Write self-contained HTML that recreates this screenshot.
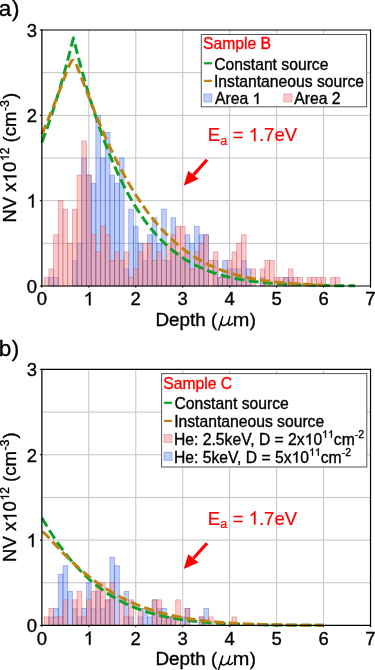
<!DOCTYPE html><html><head><meta charset="utf-8"><style>html,body{margin:0;padding:0;background:#fff;width:375px;height:670px;overflow:hidden}svg{display:block;font-family:"Liberation Sans",sans-serif;will-change:transform}</style></head><body><svg width="375" height="670" viewBox="0 0 375 670"><rect width="375" height="670" fill="#fff"></rect><g stroke="#c4c4c4" stroke-width="1"><line x1="88.82" y1="30.0" x2="88.82" y2="286.0"></line><line x1="135.77" y1="30.0" x2="135.77" y2="286.0"></line><line x1="182.72" y1="30.0" x2="182.72" y2="286.0"></line><line x1="229.67" y1="30.0" x2="229.67" y2="286.0"></line><line x1="276.62" y1="30.0" x2="276.62" y2="286.0"></line><line x1="323.57" y1="30.0" x2="323.57" y2="286.0"></line><line x1="41.87" y1="243.33" x2="370.52" y2="243.33"></line><line x1="41.87" y1="200.67" x2="370.52" y2="200.67"></line><line x1="41.87" y1="158.00" x2="370.52" y2="158.00"></line><line x1="41.87" y1="115.33" x2="370.52" y2="115.33"></line><line x1="41.87" y1="72.67" x2="370.52" y2="72.67"></line></g><g fill="rgba(38,98,238,0.3)" stroke="rgba(40,60,220,0.4)" stroke-width="0.8"><rect x="48.91" y="277.47" width="4.70" height="8.53"></rect><rect x="53.61" y="277.47" width="4.70" height="8.53"></rect><rect x="72.39" y="260.40" width="4.70" height="25.60"></rect><rect x="77.08" y="243.33" width="4.70" height="42.67"></rect><rect x="81.78" y="158.00" width="4.70" height="128.00"></rect><rect x="86.47" y="175.07" width="4.70" height="110.93"></rect><rect x="91.17" y="183.60" width="4.70" height="102.40"></rect><rect x="95.86" y="115.33" width="4.70" height="170.67"></rect><rect x="100.56" y="158.00" width="4.70" height="128.00"></rect><rect x="105.25" y="132.40" width="4.70" height="153.60"></rect><rect x="109.95" y="175.07" width="4.70" height="110.93"></rect><rect x="114.64" y="183.60" width="4.70" height="102.40"></rect><rect x="119.34" y="158.00" width="4.70" height="128.00"></rect><rect x="124.03" y="268.93" width="4.70" height="17.07"></rect><rect x="128.73" y="209.20" width="4.70" height="76.80"></rect><rect x="133.42" y="226.27" width="4.70" height="59.73"></rect><rect x="138.12" y="243.33" width="4.70" height="42.67"></rect><rect x="142.81" y="260.40" width="4.70" height="25.60"></rect><rect x="147.51" y="234.80" width="4.70" height="51.20"></rect><rect x="152.20" y="217.73" width="4.70" height="68.27"></rect><rect x="156.90" y="243.33" width="4.70" height="42.67"></rect><rect x="161.59" y="209.20" width="4.70" height="76.80"></rect><rect x="166.29" y="260.40" width="4.70" height="25.60"></rect><rect x="170.98" y="217.73" width="4.70" height="68.27"></rect><rect x="175.68" y="251.87" width="4.70" height="34.13"></rect><rect x="180.37" y="260.40" width="4.70" height="25.60"></rect><rect x="185.07" y="234.80" width="4.70" height="51.20"></rect><rect x="189.76" y="243.33" width="4.70" height="42.67"></rect><rect x="194.46" y="226.27" width="4.70" height="59.73"></rect><rect x="199.15" y="234.80" width="4.70" height="51.20"></rect><rect x="203.85" y="234.80" width="4.70" height="51.20"></rect><rect x="213.24" y="260.40" width="4.70" height="25.60"></rect><rect x="217.93" y="277.47" width="4.70" height="8.53"></rect><rect x="222.63" y="260.40" width="4.70" height="25.60"></rect><rect x="227.32" y="268.93" width="4.70" height="17.07"></rect><rect x="232.02" y="268.93" width="4.70" height="17.07"></rect><rect x="236.71" y="268.93" width="4.70" height="17.07"></rect><rect x="241.41" y="260.40" width="4.70" height="25.60"></rect><rect x="246.10" y="268.93" width="4.70" height="17.07"></rect><rect x="260.19" y="277.47" width="4.70" height="8.53"></rect><rect x="283.66" y="277.47" width="4.70" height="8.53"></rect><rect x="288.36" y="277.47" width="4.70" height="8.53"></rect></g><g fill="rgba(255,140,140,0.49)" stroke="rgba(150,30,45,0.33)" stroke-width="0.8"><rect x="44.22" y="277.47" width="4.70" height="8.53"></rect><rect x="48.91" y="268.93" width="4.70" height="17.07"></rect><rect x="53.61" y="234.80" width="4.70" height="51.20"></rect><rect x="58.30" y="200.67" width="4.70" height="85.33"></rect><rect x="63.00" y="209.20" width="4.70" height="76.80"></rect><rect x="67.69" y="243.33" width="4.70" height="42.67"></rect><rect x="72.39" y="209.20" width="4.70" height="76.80"></rect><rect x="77.08" y="175.07" width="4.70" height="110.93"></rect><rect x="81.78" y="140.93" width="4.70" height="145.07"></rect><rect x="86.47" y="175.07" width="4.70" height="110.93"></rect><rect x="91.17" y="234.80" width="4.70" height="51.20"></rect><rect x="95.86" y="251.87" width="4.70" height="34.13"></rect><rect x="100.56" y="226.27" width="4.70" height="59.73"></rect><rect x="105.25" y="234.80" width="4.70" height="51.20"></rect><rect x="109.95" y="260.40" width="4.70" height="25.60"></rect><rect x="114.64" y="251.87" width="4.70" height="34.13"></rect><rect x="119.34" y="260.40" width="4.70" height="25.60"></rect><rect x="124.03" y="251.87" width="4.70" height="34.13"></rect><rect x="128.73" y="277.47" width="4.70" height="8.53"></rect><rect x="133.42" y="268.93" width="4.70" height="17.07"></rect><rect x="138.12" y="251.87" width="4.70" height="34.13"></rect><rect x="142.81" y="243.33" width="4.70" height="42.67"></rect><rect x="147.51" y="243.33" width="4.70" height="42.67"></rect><rect x="152.20" y="260.40" width="4.70" height="25.60"></rect><rect x="156.90" y="251.87" width="4.70" height="34.13"></rect><rect x="161.59" y="260.40" width="4.70" height="25.60"></rect><rect x="166.29" y="243.33" width="4.70" height="42.67"></rect><rect x="170.98" y="234.80" width="4.70" height="51.20"></rect><rect x="175.68" y="226.27" width="4.70" height="59.73"></rect><rect x="180.37" y="226.27" width="4.70" height="59.73"></rect><rect x="185.07" y="251.87" width="4.70" height="34.13"></rect><rect x="189.76" y="268.93" width="4.70" height="17.07"></rect><rect x="194.46" y="251.87" width="4.70" height="34.13"></rect><rect x="199.15" y="243.33" width="4.70" height="42.67"></rect><rect x="203.85" y="234.80" width="4.70" height="51.20"></rect><rect x="208.54" y="260.40" width="4.70" height="25.60"></rect><rect x="213.24" y="251.87" width="4.70" height="34.13"></rect><rect x="217.93" y="277.47" width="4.70" height="8.53"></rect><rect x="222.63" y="277.47" width="4.70" height="8.53"></rect><rect x="227.32" y="260.40" width="4.70" height="25.60"></rect><rect x="232.02" y="251.87" width="4.70" height="34.13"></rect><rect x="236.71" y="243.33" width="4.70" height="42.67"></rect><rect x="241.41" y="234.80" width="4.70" height="51.20"></rect><rect x="246.10" y="277.47" width="4.70" height="8.53"></rect><rect x="250.80" y="268.93" width="4.70" height="17.07"></rect><rect x="260.19" y="268.93" width="4.70" height="17.07"></rect><rect x="264.88" y="260.40" width="4.70" height="25.60"></rect><rect x="269.58" y="260.40" width="4.70" height="25.60"></rect><rect x="274.27" y="277.47" width="4.70" height="8.53"></rect><rect x="278.97" y="277.47" width="4.70" height="8.53"></rect><rect x="283.66" y="277.47" width="4.70" height="8.53"></rect><rect x="288.36" y="268.93" width="4.70" height="17.07"></rect><rect x="293.05" y="277.47" width="4.70" height="8.53"></rect><rect x="297.75" y="277.47" width="4.70" height="8.53"></rect><rect x="307.14" y="277.47" width="4.70" height="8.53"></rect><rect x="311.83" y="277.47" width="4.70" height="8.53"></rect><rect x="316.53" y="277.47" width="4.70" height="8.53"></rect><rect x="321.22" y="277.47" width="4.70" height="8.53"></rect><rect x="330.61" y="277.47" width="4.70" height="8.53"></rect><rect x="335.31" y="277.47" width="4.70" height="8.53"></rect></g><path d="M41.87,142.37 L42.39,140.99 L42.92,139.59 L43.44,138.18 L43.96,136.77 L44.48,135.34 L45.01,133.90 L45.53,132.44 L46.05,130.98 L46.58,129.51 L47.10,128.02 L47.62,126.53 L48.14,125.02 L48.67,123.50 L49.19,121.97 L49.71,120.43 L50.23,118.88 L50.76,117.32 L51.28,115.74 L51.80,114.15 L52.33,112.55 L52.85,110.94 L53.37,109.32 L53.89,107.68 L54.42,106.04 L54.94,104.38 L55.46,102.71 L55.99,101.02 L56.51,99.33 L57.03,97.62 L57.55,95.90 L58.08,94.17 L58.60,92.42 L59.12,90.67 L59.65,88.90 L60.17,87.12 L60.69,85.32 L61.21,83.52 L61.74,81.70 L62.26,79.86 L62.78,78.02 L63.30,76.16 L63.83,74.29 L64.35,72.41 L64.87,70.51 L65.40,68.60 L65.92,66.68 L66.44,64.75 L66.96,62.80 L67.49,60.84 L68.01,58.86 L68.53,56.88 L69.06,54.88 L69.58,52.86 L70.10,50.84 L70.62,48.80 L71.15,46.75 L71.67,44.69 L72.19,42.62 L72.72,40.57 L73.24,38.73 L73.38,38.54 L73.76,39.51 L74.28,41.52 L74.81,43.58 L75.33,45.65 L75.85,47.70 L76.37,49.75 L76.90,51.78 L77.42,53.80 L77.94,55.80 L78.47,57.80 L78.99,59.78 L79.51,61.75 L80.03,63.70 L80.56,65.65 L81.08,67.57 L81.60,69.49 L82.13,71.39 L82.65,73.28 L83.17,75.16 L83.69,77.02 L84.22,78.88 L84.74,80.72 L85.26,82.54 L85.79,84.35 L86.31,86.16 L86.83,87.94 L87.35,89.72 L87.88,91.48 L88.40,93.23 L88.92,94.97 L89.44,96.70 L89.97,98.41 L90.49,100.11 L91.01,101.80 L91.54,103.48 L92.06,105.15 L92.58,106.80 L93.10,108.44 L93.63,110.07 L94.15,111.69 L94.67,113.29 L95.20,114.89 L95.72,116.47 L96.24,118.04 L96.76,119.60 L97.29,121.15 L97.81,122.68 L98.33,124.21 L98.86,125.72 L99.38,127.22 L99.90,128.71 L100.42,130.19 L100.95,131.66 L101.47,133.12 L101.99,134.56 L102.51,136.00 L103.04,137.42 L103.56,138.84 L104.08,140.24 L104.61,141.63 L105.13,143.01 L105.65,144.38 L106.17,145.74 L106.70,147.09 L107.22,148.43 L107.74,149.76 L108.27,151.07 L108.79,152.38 L109.31,153.68 L109.83,154.96 L110.36,156.24 L110.88,157.50 L111.40,158.76 L111.93,160.01 L112.45,161.24 L112.97,162.47 L113.49,163.68 L114.02,164.89 L114.54,166.09 L115.06,167.27 L115.58,168.45 L116.11,169.62 L116.63,170.78 L117.15,171.92 L117.68,173.06 L118.20,174.19 L118.72,175.31 L119.24,176.42 L119.77,177.53 L120.29,178.62 L120.81,179.70 L121.34,180.78 L121.86,181.84 L122.38,182.90 L122.90,183.94 L123.43,184.98 L123.95,186.01 L124.47,187.03 L125.00,188.05 L125.52,189.05 L126.04,190.05 L126.56,191.03 L127.09,192.01 L127.61,192.98 L128.13,193.94 L128.65,194.89 L129.18,195.84 L129.70,196.78 L130.22,197.70 L130.75,198.62 L131.27,199.54 L131.79,200.44 L132.31,201.34 L132.84,202.23 L133.36,203.11 L133.88,203.98 L134.41,204.84 L134.93,205.70 L135.45,206.55 L135.97,207.39 L136.50,208.23 L137.02,209.05 L137.54,209.87 L138.06,210.68 L138.59,211.49 L139.11,212.29 L139.63,213.08 L140.16,213.86 L140.68,214.64 L141.20,215.40 L141.72,216.17 L142.25,216.92 L142.77,217.67 L143.29,218.41 L143.82,219.14 L144.34,219.87 L144.86,220.59 L145.38,221.31 L145.91,222.01 L146.43,222.71 L146.95,223.41 L147.48,224.09 L148.00,224.78 L148.52,225.45 L149.04,226.12 L149.57,226.78 L150.09,227.44 L150.61,228.09 L151.13,228.73 L151.66,229.37 L152.18,230.00 L152.70,230.62 L153.23,231.24 L153.75,231.85 L154.27,232.46 L154.79,233.06 L155.32,233.66 L155.84,234.25 L156.36,234.83 L156.89,235.41 L157.41,235.98 L157.93,236.55 L158.45,237.11 L158.98,237.66 L159.50,238.21 L160.02,238.76 L160.55,239.30 L161.07,239.83 L161.59,240.36 L162.11,240.89 L162.64,241.40 L163.16,241.92 L163.68,242.43 L164.20,242.93 L164.73,243.43 L165.25,243.92 L165.77,244.41 L166.30,244.89 L166.82,245.37 L167.34,245.84 L167.86,246.31 L168.39,246.77 L168.91,247.23 L169.43,247.69 L169.96,248.14 L170.48,248.58 L171.00,249.02 L171.52,249.46 L172.05,249.89 L172.57,250.32 L173.09,250.74 L173.62,251.16 L174.14,251.57 L174.66,251.98 L175.18,252.39 L175.71,252.79 L176.23,253.18 L176.75,253.58 L177.27,253.96 L177.80,254.35 L178.32,254.73 L178.84,255.11 L179.37,255.48 L179.89,255.85 L180.41,256.21 L180.93,256.57 L181.46,256.93 L181.98,257.28 L182.50,257.63 L183.03,257.97 L183.55,258.32 L184.07,258.65 L184.59,258.99 L185.12,259.32 L185.64,259.65 L186.16,259.97 L186.69,260.29 L187.21,260.61 L187.73,260.92 L188.25,261.23 L188.78,261.54 L189.30,261.84 L189.82,262.14 L190.34,262.43 L190.87,262.73 L191.39,263.02 L191.91,263.30 L192.44,263.59 L192.96,263.87 L193.48,264.14 L194.00,264.42 L194.53,264.69 L195.05,264.96 L195.57,265.22 L196.10,265.49 L196.62,265.74 L197.14,266.00 L197.66,266.25 L198.19,266.50 L198.71,266.75 L199.23,267.00 L199.76,267.24 L200.28,267.48 L200.80,267.71 L201.32,267.95 L201.85,268.18 L202.37,268.41 L202.89,268.63 L203.41,268.86 L203.94,269.08 L204.46,269.30 L204.98,269.51 L205.51,269.72 L206.03,269.93 L206.55,270.14 L207.07,270.35 L207.60,270.55 L208.12,270.75 L208.64,270.95 L209.17,271.15 L209.69,271.34 L210.21,271.53 L210.73,271.72 L211.26,271.91 L211.78,272.10 L212.30,272.28 L212.83,272.46 L213.35,272.64 L213.87,272.81 L214.39,272.99 L214.92,273.16 L215.44,273.33 L215.96,273.50 L216.48,273.67 L217.01,273.83 L217.53,273.99 L218.05,274.15 L218.58,274.31 L219.10,274.47 L219.62,274.62 L220.14,274.77 L220.67,274.92 L221.19,275.07 L221.71,275.22 L222.24,275.37 L222.76,275.51 L223.28,275.65 L223.80,275.79 L224.33,275.93 L224.85,276.07 L225.37,276.20 L225.90,276.33 L226.42,276.47 L226.94,276.60 L227.46,276.72 L227.99,276.85 L228.51,276.98 L229.03,277.10 L229.55,277.22 L230.08,277.34 L230.60,277.46 L231.12,277.58 L231.65,277.70 L232.17,277.81 L232.69,277.92 L233.21,278.04 L233.74,278.15 L234.26,278.26 L234.78,278.36 L235.31,278.47 L235.83,278.57 L236.35,278.68 L236.87,278.78 L237.40,278.88 L237.92,278.98 L238.44,279.08 L238.97,279.18 L239.49,279.27 L240.01,279.37 L240.53,279.46 L241.06,279.55 L241.58,279.64 L242.10,279.73 L242.62,279.82 L243.15,279.91 L243.67,280.00 L244.19,280.08 L244.72,280.17 L245.24,280.25 L245.76,280.33 L246.28,280.41 L246.81,280.49 L247.33,280.57 L247.85,280.65 L248.38,280.73 L248.90,280.80 L249.42,280.88 L249.94,280.95 L250.47,281.02 L250.99,281.10 L251.51,281.17 L252.04,281.24 L252.56,281.31 L253.08,281.37 L253.60,281.44 L254.13,281.51 L254.65,281.57 L255.17,281.64 L255.69,281.70 L256.22,281.76 L256.74,281.83 L257.26,281.89 L257.79,281.95 L258.31,282.01 L258.83,282.07 L259.35,282.12 L259.88,282.18 L260.40,282.24 L260.92,282.29 L261.45,282.35 L261.97,282.40 L262.49,282.45 L263.01,282.51 L263.54,282.56 L264.06,282.61 L264.58,282.66 L265.11,282.71 L265.63,282.76 L266.15,282.81 L266.67,282.86 L267.20,282.90 L267.72,282.95 L268.24,283.00 L268.76,283.04 L269.29,283.09 L269.81,283.13 L270.33,283.17 L270.86,283.22 L271.38,283.26 L271.90,283.30 L272.42,283.34 L272.95,283.38 L273.47,283.42 L273.99,283.46 L274.52,283.50 L275.04,283.54 L275.56,283.57 L276.08,283.61 L276.61,283.65 L277.13,283.68 L277.65,283.72 L278.18,283.75 L278.70,283.79 L279.22,283.82 L279.74,283.86 L280.27,283.89 L280.79,283.92 L281.31,283.95 L281.83,283.99 L282.36,284.02 L282.88,284.05 L283.40,284.08 L283.93,284.11 L284.45,284.14 L284.97,284.17 L285.49,284.19 L286.02,284.22 L286.54,284.25 L287.06,284.28 L287.59,284.31 L288.11,284.33 L288.63,284.36 L289.15,284.38 L289.68,284.41 L290.20,284.43 L290.72,284.46 L291.25,284.48 L291.77,284.51 L292.29,284.53 L292.81,284.55 L293.34,284.58 L293.86,284.60 L294.38,284.62 L294.90,284.64 L295.43,284.67 L295.95,284.69 L296.47,284.71 L297.00,284.73 L297.52,284.75 L298.04,284.77 L298.56,284.79 L299.09,284.81 L299.61,284.83 L300.13,284.85 L300.66,284.86 L301.18,284.88 L301.70,284.90 L302.22,284.92 L302.75,284.94 L303.27,284.95 L303.79,284.97 L304.32,284.99 L304.84,285.00 L305.36,285.02 L305.88,285.04 L306.41,285.05 L306.93,285.07 L307.45,285.08 L307.97,285.10 L308.50,285.11 L309.02,285.13 L309.54,285.14 L310.07,285.15 L310.59,285.17 L311.11,285.18 L311.63,285.20 L312.16,285.21 L312.68,285.22 L313.20,285.23 L313.73,285.25 L314.25,285.26 L314.77,285.27 L315.29,285.28 L315.82,285.30 L316.34,285.31 L316.86,285.32 L317.38,285.33 L317.91,285.34 L318.43,285.35 L318.95,285.36 L319.48,285.37 L320.00,285.38 L320.52,285.40 L321.04,285.41 L321.57,285.42 L322.09,285.43 L322.61,285.43 L323.14,285.44 L323.66,285.45 L324.18,285.46 L324.70,285.47 L325.23,285.48 L325.75,285.49 L326.27,285.50 L326.80,285.51 L327.32,285.52 L327.84,285.52 L328.36,285.53 L328.89,285.54 L329.41,285.55 L329.93,285.56 L330.45,285.56 L330.98,285.57 L331.50,285.58 L332.02,285.58 L332.55,285.59 L333.07,285.60 L333.59,285.61 L334.11,285.61 L334.64,285.62 L335.16,285.63 L335.68,285.63 L336.21,285.64 L336.73,285.64 L337.25,285.65 L337.77,285.66 L338.30,285.66 L338.82,285.67 L339.34,285.67 L339.87,285.68 L340.39,285.69 L340.91,285.69 L341.43,285.70 L341.96,285.70 L342.48,285.71 L343.00,285.71 L343.52,285.72 L344.05,285.72 L344.57,285.73 L345.09,285.73 L345.62,285.74 L346.14,285.74 L346.66,285.75 L347.18,285.75 L347.71,285.75 L348.23,285.76 L348.75,285.76 L349.28,285.77 L349.80,285.77 L350.32,285.78 L350.84,285.78 L351.37,285.78 L351.89,285.79 L352.41,285.79 L352.94,285.80 L353.46,285.80 L353.98,285.80 L354.50,285.81 L355.03,285.81" fill="none" stroke="#0fa02c" stroke-width="3" stroke-dasharray="10 4.3"></path><path d="M41.87,134.08 L42.34,133.01 L42.81,131.93 L43.28,130.86 L43.75,129.77 L44.22,128.68 L44.69,127.59 L45.16,126.49 L45.63,125.38 L46.10,124.27 L46.57,123.16 L47.04,122.04 L47.51,120.92 L47.98,119.79 L48.45,118.66 L48.92,117.52 L49.39,116.38 L49.86,115.23 L50.34,114.08 L50.81,112.92 L51.28,111.76 L51.75,110.59 L52.22,109.42 L52.69,108.25 L53.16,107.07 L53.63,105.88 L54.10,104.69 L54.57,103.50 L55.04,102.30 L55.51,101.10 L55.98,99.90 L56.45,98.69 L56.92,97.48 L57.39,96.26 L57.86,95.04 L58.33,93.81 L58.80,92.59 L59.27,91.36 L59.74,90.12 L60.21,88.88 L60.68,87.64 L61.15,86.40 L61.62,85.16 L62.09,83.91 L62.56,82.67 L63.03,81.42 L63.50,80.17 L63.97,78.93 L64.44,77.68 L64.91,76.44 L65.38,75.20 L65.85,73.96 L66.32,72.74 L66.80,71.52 L67.27,70.31 L67.74,69.12 L68.21,67.95 L68.68,66.81 L69.15,65.70 L69.62,64.64 L70.09,63.64 L70.56,62.71 L71.03,61.88 L71.50,61.17 L71.97,60.63 L72.44,60.27 L72.91,60.13 L72.97,60.13 L73.38,60.21 L73.85,60.52 L74.32,61.02 L74.79,61.68 L75.26,62.48 L75.73,63.39 L76.20,64.37 L76.67,65.42 L77.14,66.52 L77.61,67.66 L78.08,68.82 L78.55,70.00 L79.02,71.21 L79.49,72.42 L79.96,73.64 L80.43,74.88 L80.90,76.12 L81.37,77.36 L81.84,78.60 L82.31,79.85 L82.78,81.10 L83.25,82.34 L83.73,83.59 L84.20,84.84 L84.67,86.08 L85.14,87.32 L85.61,88.56 L86.08,89.80 L86.55,91.04 L87.02,92.27 L87.49,93.50 L87.96,94.72 L88.43,95.94 L88.90,97.16 L89.37,98.37 L89.84,99.59 L90.31,100.79 L90.78,101.99 L91.25,103.19 L91.72,104.39 L92.19,105.58 L92.66,106.76 L93.13,107.94 L93.60,109.12 L94.07,110.29 L94.54,111.46 L95.01,112.62 L95.48,113.78 L95.95,114.93 L96.42,116.08 L96.89,117.22 L97.36,118.36 L97.83,119.50 L98.30,120.63 L98.77,121.75 L99.24,122.87 L99.71,123.99 L100.19,125.10 L100.66,126.20 L101.13,127.30 L101.60,128.40 L102.07,129.49 L102.54,130.57 L103.01,131.66 L103.48,132.73 L103.95,133.80 L104.42,134.87 L104.89,135.93 L105.36,136.99 L105.83,138.04 L106.30,139.08 L106.77,140.12 L107.24,141.16 L107.71,142.19 L108.18,143.22 L108.65,144.24 L109.12,145.26 L109.59,146.27 L110.06,147.27 L110.53,148.27 L111.00,149.27 L111.47,150.26 L111.94,151.25 L112.41,152.23 L112.88,153.21 L113.35,154.18 L113.82,155.15 L114.29,156.11 L114.76,157.06 L115.23,158.02 L115.70,158.96 L116.17,159.90 L116.65,160.84 L117.12,161.77 L117.59,162.70 L118.06,163.62 L118.53,164.54 L119.00,165.45 L119.47,166.36 L119.94,167.26 L120.41,168.16 L120.88,169.05 L121.35,169.94 L121.82,170.82 L122.29,171.70 L122.76,172.57 L123.23,173.44 L123.70,174.30 L124.17,175.16 L124.64,176.02 L125.11,176.87 L125.58,177.71 L126.05,178.55 L126.52,179.38 L126.99,180.21 L127.46,181.04 L127.93,181.86 L128.40,182.67 L128.87,183.49 L129.34,184.29 L129.81,185.09 L130.28,185.89 L130.75,186.68 L131.22,187.47 L131.69,188.25 L132.16,189.03 L132.63,189.80 L133.11,190.57 L133.58,191.34 L134.05,192.10 L134.52,192.85 L134.99,193.60 L135.46,194.35 L135.93,195.09 L136.40,195.83 L136.87,196.56 L137.34,197.29 L137.81,198.01 L138.28,198.73 L138.75,199.44 L139.22,200.15 L139.69,200.86 L140.16,201.56 L140.63,202.25 L141.10,202.95 L141.57,203.63 L142.04,204.32 L142.51,205.00 L142.98,205.67 L143.45,206.34 L143.92,207.01 L144.39,207.67 L144.86,208.32 L145.33,208.98 L145.80,209.63 L146.27,210.27 L146.74,210.91 L147.21,211.55 L147.68,212.18 L148.15,212.81 L148.62,213.43 L149.09,214.05 L149.56,214.66 L150.04,215.28 L150.51,215.88 L150.98,216.49 L151.45,217.08 L151.92,217.68 L152.39,218.27 L152.86,218.86 L153.33,219.44 L153.80,220.02 L154.27,220.59 L154.74,221.16 L155.21,221.73 L155.68,222.29 L156.15,222.85 L156.62,223.41 L157.09,223.96 L157.56,224.50 L158.03,225.05 L158.50,225.59 L158.97,226.12 L159.44,226.66 L159.91,227.18 L160.38,227.71 L160.85,228.23 L161.32,228.75 L161.79,229.26 L162.26,229.77 L162.73,230.27 L163.20,230.78 L163.67,231.28 L164.14,231.77 L164.61,232.26 L165.08,232.75 L165.55,233.23 L166.02,233.71 L166.50,234.19 L166.97,234.66 L167.44,235.13 L167.91,235.60 L168.38,236.06 L168.85,236.52 L169.32,236.98 L169.79,237.43 L170.26,237.88 L170.73,238.33 L171.20,238.77 L171.67,239.21 L172.14,239.64 L172.61,240.08 L173.08,240.51 L173.55,240.93 L174.02,241.35 L174.49,241.77 L174.96,242.19 L175.43,242.60 L175.90,243.01 L176.37,243.42 L176.84,243.82 L177.31,244.22 L177.78,244.62 L178.25,245.01 L178.72,245.40 L179.19,245.79 L179.66,246.18 L180.13,246.56 L180.60,246.94 L181.07,247.31 L181.54,247.69 L182.01,248.06 L182.48,248.42 L182.96,248.79 L183.43,249.15 L183.90,249.50 L184.37,249.86 L184.84,250.21 L185.31,250.56 L185.78,250.91 L186.25,251.25 L186.72,251.59 L187.19,251.93 L187.66,252.26 L188.13,252.60 L188.60,252.93 L189.07,253.25 L189.54,253.58 L190.01,253.90 L190.48,254.22 L190.95,254.53 L191.42,254.85 L191.89,255.16 L192.36,255.47 L192.83,255.77 L193.30,256.08 L193.77,256.38 L194.24,256.67 L194.71,256.97 L195.18,257.26 L195.65,257.55 L196.12,257.84 L196.59,258.13 L197.06,258.41 L197.53,258.69 L198.00,258.97 L198.47,259.24 L198.94,259.52 L199.42,259.79 L199.89,260.06 L200.36,260.32 L200.83,260.59 L201.30,260.85 L201.77,261.11 L202.24,261.37 L202.71,261.62 L203.18,261.87 L203.65,262.12 L204.12,262.37 L204.59,262.62 L205.06,262.86 L205.53,263.10 L206.00,263.34 L206.47,263.58 L206.94,263.81 L207.41,264.05 L207.88,264.28 L208.35,264.51 L208.82,264.73 L209.29,264.96 L209.76,265.18 L210.23,265.40 L210.70,265.62 L211.17,265.84 L211.64,266.05 L212.11,266.27 L212.58,266.48 L213.05,266.68 L213.52,266.89 L213.99,267.10 L214.46,267.30 L214.93,267.50 L215.40,267.70 L215.88,267.90 L216.35,268.09 L216.82,268.29 L217.29,268.48 L217.76,268.67 L218.23,268.86 L218.70,269.04 L219.17,269.23 L219.64,269.41 L220.11,269.59 L220.58,269.77 L221.05,269.95 L221.52,270.13 L221.99,270.30 L222.46,270.47 L222.93,270.65 L223.40,270.81 L223.87,270.98 L224.34,271.15 L224.81,271.31 L225.28,271.48 L225.75,271.64 L226.22,271.80 L226.69,271.96 L227.16,272.11 L227.63,272.27 L228.10,272.42 L228.57,272.58 L229.04,272.73 L229.51,272.88 L229.98,273.02 L230.45,273.17 L230.92,273.31 L231.39,273.46 L231.86,273.60 L232.33,273.74 L232.81,273.88 L233.28,274.02 L233.75,274.15 L234.22,274.29 L234.69,274.42 L235.16,274.56 L235.63,274.69 L236.10,274.82 L236.57,274.94 L237.04,275.07 L237.51,275.20 L237.98,275.32 L238.45,275.45 L238.92,275.57 L239.39,275.69 L239.86,275.81 L240.33,275.93 L240.80,276.04 L241.27,276.16 L241.74,276.27 L242.21,276.39 L242.68,276.50 L243.15,276.61 L243.62,276.72 L244.09,276.83 L244.56,276.94 L245.03,277.05 L245.50,277.15 L245.97,277.26 L246.44,277.36 L246.91,277.46 L247.38,277.56 L247.85,277.66 L248.32,277.76 L248.79,277.86 L249.27,277.96 L249.74,278.05 L250.21,278.15 L250.68,278.24 L251.15,278.33 L251.62,278.43 L252.09,278.52 L252.56,278.61 L253.03,278.70 L253.50,278.78 L253.97,278.87 L254.44,278.96 L254.91,279.04 L255.38,279.13 L255.85,279.21 L256.32,279.29 L256.79,279.37 L257.26,279.45 L257.73,279.53 L258.20,279.61 L258.67,279.69 L259.14,279.77 L259.61,279.85 L260.08,279.92 L260.55,280.00 L261.02,280.07 L261.49,280.14 L261.96,280.22 L262.43,280.29 L262.90,280.36 L263.37,280.43 L263.84,280.50 L264.31,280.56 L264.78,280.63 L265.25,280.70 L265.73,280.77 L266.20,280.83 L266.67,280.90 L267.14,280.96 L267.61,281.02 L268.08,281.08 L268.55,281.15 L269.02,281.21 L269.49,281.27 L269.96,281.33 L270.43,281.39 L270.90,281.44 L271.37,281.50 L271.84,281.56 L272.31,281.62 L272.78,281.67 L273.25,281.73 L273.72,281.78 L274.19,281.83 L274.66,281.89 L275.13,281.94 L275.60,281.99 L276.07,282.04 L276.54,282.09 L277.01,282.14 L277.48,282.19 L277.95,282.24 L278.42,282.29 L278.89,282.34 L279.36,282.39 L279.83,282.43 L280.30,282.48 L280.77,282.53 L281.24,282.57 L281.71,282.62 L282.19,282.66 L282.66,282.70 L283.13,282.75 L283.60,282.79 L284.07,282.83 L284.54,282.87 L285.01,282.91 L285.48,282.95 L285.95,282.99 L286.42,283.03 L286.89,283.07 L287.36,283.11 L287.83,283.15 L288.30,283.19 L288.77,283.22 L289.24,283.26 L289.71,283.30 L290.18,283.33 L290.65,283.37 L291.12,283.40 L291.59,283.44 L292.06,283.47 L292.53,283.51 L293.00,283.54 L293.47,283.57 L293.94,283.61 L294.41,283.64 L294.88,283.67 L295.35,283.70 L295.82,283.73 L296.29,283.76 L296.76,283.79 L297.23,283.82 L297.70,283.85 L298.17,283.88 L298.64,283.91 L299.12,283.94 L299.59,283.97 L300.06,283.99 L300.53,284.02 L301.00,284.05 L301.47,284.07 L301.94,284.10 L302.41,284.13 L302.88,284.15 L303.35,284.18 L303.82,284.20 L304.29,284.23 L304.76,284.25 L305.23,284.28 L305.70,284.30 L306.17,284.32 L306.64,284.35 L307.11,284.37 L307.58,284.39 L308.05,284.41 L308.52,284.44 L308.99,284.46 L309.46,284.48 L309.93,284.50 L310.40,284.52 L310.87,284.54 L311.34,284.56 L311.81,284.58 L312.28,284.60 L312.75,284.62 L313.22,284.64 L313.69,284.66 L314.16,284.68 L314.63,284.70 L315.10,284.72 L315.58,284.74 L316.05,284.75 L316.52,284.77 L316.99,284.79 L317.46,284.81 L317.93,284.82 L318.40,284.84 L318.87,284.86 L319.34,284.87 L319.81,284.89 L320.28,284.90 L320.75,284.92 L321.22,284.94 L321.69,284.95 L322.16,284.97 L322.63,284.98 L323.10,285.00 L323.57,285.01" fill="none" stroke="#bd8214" stroke-width="3" stroke-dasharray="10 4.3"></path><g stroke="#000" stroke-width="1.22" fill="none"><line x1="41.27" y1="30.00" x2="371.12" y2="30.00"></line><line x1="41.27" y1="286.00" x2="371.12" y2="286.00"></line><line x1="41.87" y1="29.40" x2="41.87" y2="286.60" stroke-width="1.25"></line><line x1="370.52" y1="29.40" x2="370.52" y2="287.50" stroke-width="1.2"></line><line x1="41.87" y1="286.0" x2="41.87" y2="287.60" stroke-width="1"></line><line x1="88.82" y1="286.0" x2="88.82" y2="287.60" stroke-width="1"></line><line x1="135.77" y1="286.0" x2="135.77" y2="287.60" stroke-width="1"></line><line x1="182.72" y1="286.0" x2="182.72" y2="287.60" stroke-width="1"></line><line x1="229.67" y1="286.0" x2="229.67" y2="287.60" stroke-width="1"></line><line x1="276.62" y1="286.0" x2="276.62" y2="287.60" stroke-width="1"></line><line x1="323.57" y1="286.0" x2="323.57" y2="287.60" stroke-width="1"></line><line x1="370.52" y1="286.0" x2="370.52" y2="287.60" stroke-width="1"></line><line x1="39.87" y1="286.00" x2="41.87" y2="286.00" stroke-width="1"></line><line x1="39.87" y1="200.67" x2="41.87" y2="200.67" stroke-width="1"></line><line x1="39.87" y1="115.33" x2="41.87" y2="115.33" stroke-width="1"></line><line x1="39.87" y1="30.00" x2="41.87" y2="30.00" stroke-width="1"></line></g><rect x="201.3" y="34.5" width="165.3" height="72.3" fill="#fff" stroke="#555" stroke-width="1"></rect><g font-family="Liberation Sans, sans-serif" font-size="15.7" stroke="#000" stroke-width="0.35"><text x="203.0" y="49.4" fill="#ff0000" stroke="#ff0000">Sample B</text><text x="214.2" y="70.2">Constant source</text><text x="214.0" y="87.2">Instantaneous source</text><text x="215.0" y="104.1">Area  </text><path d="M763,0 L583,0 L583,1147 Q518,1085 412.5,1023 Q307,961 223,930 L223,1104 Q374,1175 484.5,1273.5 Q595,1372 644,1466 L763,1466 Z" transform="translate(252.48,104.10) scale(0.007666,-0.007666)" fill="rgb(0, 0, 0)" stroke="rgb(0, 0, 0)" stroke-width="45.66"></path><text x="294.3" y="104.1">Area 2</text></g><line x1="204" y1="63.3" x2="212" y2="63.3" stroke="#0fa02c" stroke-width="2.2"></line><line x1="204" y1="80.9" x2="212" y2="80.9" stroke="#bd8214" stroke-width="2.2"></line><rect x="203.8" y="93.9" width="8" height="8" fill="rgba(38,98,238,0.3)" stroke="rgba(40,60,220,0.4)" stroke-width="0.8"></rect><rect x="283.8" y="93.9" width="8" height="8" fill="rgba(255,140,140,0.49)" stroke="rgba(150,30,45,0.33)" stroke-width="0.8"></rect><g font-family="Liberation Sans, sans-serif" fill="#ff0000"><text x="207.7" y="141.20" font-size="18.5" stroke="#ff0000" stroke-width="0.2">E<tspan font-size="12.5" dy="3.5" dx="0.2">a</tspan><tspan dy="-3.5" dx="0.4"> =  .7eV</tspan></text><path d="M763,0 L583,0 L583,1147 Q518,1085 412.5,1023 Q307,961 223,930 L223,1104 Q374,1175 484.5,1273.5 Q595,1372 644,1466 L763,1466 Z" transform="translate(248.68,141.20) scale(0.009033,-0.009033)" fill="rgb(255, 0, 0)" stroke="rgb(255, 0, 0)" stroke-width="22.14"></path><line x1="207" y1="159.80" x2="193.5" y2="174.90" stroke="#ff0000" stroke-width="3.2"></line><polygon points="183.7,185.70 188.3,170.80 198.5,179.00" fill="#ff0000"></polygon></g><g font-family="Liberation Sans, sans-serif" font-size="18.5" fill="#000" stroke="#000" stroke-width="0.35"><text x="41.87" y="305.20" text-anchor="middle">0</text><text x="88.82" y="305.20" text-anchor="middle"> </text><path d="M763,0 L583,0 L583,1147 Q518,1085 412.5,1023 Q307,961 223,930 L223,1104 Q374,1175 484.5,1273.5 Q595,1372 644,1466 L763,1466 Z" transform="translate(83.67,305.20) scale(0.009033,-0.009033)" fill="rgb(0, 0, 0)" stroke="rgb(0, 0, 0)" stroke-width="38.75"></path><text x="135.77" y="305.20" text-anchor="middle">2</text><text x="182.72" y="305.20" text-anchor="middle">3</text><text x="229.67" y="305.20" text-anchor="middle">4</text><text x="276.62" y="305.20" text-anchor="middle">5</text><text x="323.57" y="305.20" text-anchor="middle">6</text><text x="370.52" y="305.20" text-anchor="middle">7</text><text x="37.0" y="292.90" text-anchor="end">0</text><text x="37.0" y="207.57" text-anchor="end"> </text><path d="M763,0 L583,0 L583,1147 Q518,1085 412.5,1023 Q307,961 223,930 L223,1104 Q374,1175 484.5,1273.5 Q595,1372 644,1466 L763,1466 Z" transform="translate(26.70,207.57) scale(0.009033,-0.009033)" fill="rgb(0, 0, 0)" stroke="rgb(0, 0, 0)" stroke-width="38.75"></path><text x="37.0" y="122.23" text-anchor="end">2</text><text x="37.0" y="36.90" text-anchor="end">3</text></g><g font-family="Liberation Sans, sans-serif" font-size="18.5" stroke="#000" stroke-width="0.35"><text transform="translate(155.47,325.80) scale(1.017,1)">Depth</text><text x="210.90" y="325.80">(</text><path d="M218.4,330.60 L222.9,316.10 M221.5,321.60 Q220.5,325.90 223.9,325.50 Q227.3,325.10 229.2,320.40 M230.0,316.10 L228.4,323.00 Q227.9,325.50 230.3,325.10 Q231.8,324.70 232.9,322.90" fill="none" stroke="#000" stroke-width="1.45" stroke-linecap="butt"></path><text transform="translate(232.71,325.80) scale(1.077,1)">m</text><text x="249.80" y="325.80">)</text></g><text font-family="Liberation Sans, sans-serif" font-size="18.5" transform="translate(16.4,222.50) rotate(-90)" stroke="#000" stroke-width="0.35">NV x 0<tspan font-size="12" dy="-7.4" dx="0.8"> 2</tspan><tspan dy="7.4"> (cm</tspan><tspan font-size="12.5" dy="-7.4" dx="0.6">-3</tspan><tspan dy="7.4" dx="1.0">)</tspan></text><path d="M763,0 L583,0 L583,1147 Q518,1085 412.5,1023 Q307,961 223,930 L223,1104 Q374,1175 484.5,1273.5 Q595,1372 644,1466 L763,1466 Z" transform="translate(16.4,222.50) rotate(-90) translate(61.47,-7.40) scale(0.005859,-0.005859)" fill="rgb(0, 0, 0)" stroke="rgb(0, 0, 0)" stroke-width="59.73"></path><path d="M763,0 L583,0 L583,1147 Q518,1085 412.5,1023 Q307,961 223,930 L223,1104 Q374,1175 484.5,1273.5 Q595,1372 644,1466 L763,1466 Z" transform="translate(16.4,222.50) rotate(-90) translate(40.08,0.00) scale(0.009033,-0.009033)" fill="rgb(0, 0, 0)" stroke="rgb(0, 0, 0)" stroke-width="38.75"></path><text font-family="Liberation Sans, sans-serif" font-size="22.5" x="-1.2" y="16.4" stroke="#000" stroke-width="0.35">a<tspan dx="0.6">)</tspan></text><g stroke="#c4c4c4" stroke-width="1"><line x1="88.82" y1="369.45" x2="88.82" y2="625.45"></line><line x1="135.77" y1="369.45" x2="135.77" y2="625.45"></line><line x1="182.72" y1="369.45" x2="182.72" y2="625.45"></line><line x1="229.67" y1="369.45" x2="229.67" y2="625.45"></line><line x1="276.62" y1="369.45" x2="276.62" y2="625.45"></line><line x1="323.57" y1="369.45" x2="323.57" y2="625.45"></line><line x1="41.87" y1="582.78" x2="370.52" y2="582.78"></line><line x1="41.87" y1="540.12" x2="370.52" y2="540.12"></line><line x1="41.87" y1="497.45" x2="370.52" y2="497.45"></line><line x1="41.87" y1="454.78" x2="370.52" y2="454.78"></line><line x1="41.87" y1="412.12" x2="370.52" y2="412.12"></line></g><g fill="rgba(38,98,238,0.3)" stroke="rgba(40,60,220,0.4)" stroke-width="0.8"><rect x="48.91" y="616.92" width="4.70" height="8.53"></rect><rect x="53.61" y="608.38" width="4.70" height="17.07"></rect><rect x="58.30" y="574.25" width="4.70" height="51.20"></rect><rect x="63.00" y="565.72" width="4.70" height="59.73"></rect><rect x="67.69" y="591.32" width="4.70" height="34.13"></rect><rect x="72.39" y="608.38" width="4.70" height="17.07"></rect><rect x="77.08" y="616.92" width="4.70" height="8.53"></rect><rect x="81.78" y="608.38" width="4.70" height="17.07"></rect><rect x="86.47" y="582.78" width="4.70" height="42.67"></rect><rect x="91.17" y="608.38" width="4.70" height="17.07"></rect><rect x="95.86" y="591.32" width="4.70" height="34.13"></rect><rect x="100.56" y="608.38" width="4.70" height="17.07"></rect><rect x="105.25" y="599.85" width="4.70" height="25.60"></rect><rect x="109.95" y="557.18" width="4.70" height="68.27"></rect><rect x="114.64" y="565.72" width="4.70" height="59.73"></rect><rect x="124.03" y="591.32" width="4.70" height="34.13"></rect><rect x="128.73" y="616.92" width="4.70" height="8.53"></rect><rect x="138.12" y="616.92" width="4.70" height="8.53"></rect><rect x="142.81" y="608.38" width="4.70" height="17.07"></rect><rect x="147.51" y="616.92" width="4.70" height="8.53"></rect><rect x="152.20" y="599.85" width="4.70" height="25.60"></rect><rect x="156.90" y="608.38" width="4.70" height="17.07"></rect><rect x="161.59" y="608.38" width="4.70" height="17.07"></rect><rect x="166.29" y="616.92" width="4.70" height="8.53"></rect><rect x="170.98" y="616.92" width="4.70" height="8.53"></rect><rect x="180.37" y="616.92" width="4.70" height="8.53"></rect><rect x="185.07" y="608.38" width="4.70" height="17.07"></rect><rect x="199.15" y="616.92" width="4.70" height="8.53"></rect><rect x="203.85" y="608.38" width="4.70" height="17.07"></rect></g><g fill="rgba(255,140,140,0.49)" stroke="rgba(150,30,45,0.33)" stroke-width="0.8"><rect x="44.22" y="616.92" width="4.70" height="8.53"></rect><rect x="48.91" y="608.38" width="4.70" height="17.07"></rect><rect x="53.61" y="616.92" width="4.70" height="8.53"></rect><rect x="58.30" y="616.92" width="4.70" height="8.53"></rect><rect x="63.00" y="599.85" width="4.70" height="25.60"></rect><rect x="72.39" y="599.85" width="4.70" height="25.60"></rect><rect x="77.08" y="591.32" width="4.70" height="34.13"></rect><rect x="81.78" y="616.92" width="4.70" height="8.53"></rect><rect x="86.47" y="599.85" width="4.70" height="25.60"></rect><rect x="91.17" y="591.32" width="4.70" height="34.13"></rect><rect x="95.86" y="582.78" width="4.70" height="42.67"></rect><rect x="100.56" y="582.78" width="4.70" height="42.67"></rect><rect x="105.25" y="599.85" width="4.70" height="25.60"></rect><rect x="109.95" y="582.78" width="4.70" height="42.67"></rect><rect x="119.34" y="599.85" width="4.70" height="25.60"></rect><rect x="124.03" y="616.92" width="4.70" height="8.53"></rect><rect x="128.73" y="599.85" width="4.70" height="25.60"></rect><rect x="138.12" y="608.38" width="4.70" height="17.07"></rect><rect x="152.20" y="599.85" width="4.70" height="25.60"></rect><rect x="156.90" y="599.85" width="4.70" height="25.60"></rect><rect x="161.59" y="616.92" width="4.70" height="8.53"></rect><rect x="166.29" y="616.92" width="4.70" height="8.53"></rect><rect x="170.98" y="616.92" width="4.70" height="8.53"></rect><rect x="175.68" y="599.85" width="4.70" height="25.60"></rect><rect x="185.07" y="608.38" width="4.70" height="17.07"></rect><rect x="199.15" y="616.92" width="4.70" height="8.53"></rect><rect x="208.54" y="616.92" width="4.70" height="8.53"></rect><rect x="232.02" y="616.92" width="4.70" height="8.53"></rect></g><path d="M41.87,518.00 L42.34,518.56 L42.81,519.35 L43.28,520.16 L43.75,520.96 L44.22,521.77 L44.69,522.57 L45.16,523.36 L45.63,524.15 L46.10,524.94 L46.57,525.72 L47.04,526.50 L47.51,527.27 L47.98,528.04 L48.45,528.81 L48.92,529.57 L49.39,530.32 L49.86,531.07 L50.34,531.82 L50.81,532.56 L51.28,533.30 L51.75,534.03 L52.22,534.76 L52.69,535.48 L53.16,536.20 L53.63,536.91 L54.10,537.62 L54.57,538.33 L55.04,539.03 L55.51,539.72 L55.98,540.42 L56.45,541.10 L56.92,541.79 L57.39,542.47 L57.86,543.14 L58.33,543.81 L58.80,544.48 L59.27,545.14 L59.74,545.80 L60.21,546.45 L60.68,547.10 L61.15,547.74 L61.62,548.39 L62.09,549.02 L62.56,549.65 L63.03,550.28 L63.50,550.91 L63.97,551.53 L64.44,552.14 L64.91,552.75 L65.38,553.36 L65.85,553.97 L66.32,554.56 L66.80,555.16 L67.27,555.75 L67.74,556.34 L68.21,556.92 L68.68,557.50 L69.15,558.08 L69.62,558.65 L70.09,559.22 L70.56,559.78 L71.03,560.34 L71.50,560.90 L71.97,561.45 L72.44,562.00 L72.91,562.54 L73.38,563.08 L73.85,563.62 L74.32,564.16 L74.79,564.69 L75.26,565.21 L75.73,565.73 L76.20,566.25 L76.67,566.77 L77.14,567.28 L77.61,567.79 L78.08,568.29 L78.55,568.79 L79.02,569.29 L79.49,569.78 L79.96,570.27 L80.43,570.76 L80.90,571.24 L81.37,571.72 L81.84,572.20 L82.31,572.67 L82.78,573.14 L83.25,573.60 L83.73,574.06 L84.20,574.52 L84.67,574.98 L85.14,575.43 L85.61,575.88 L86.08,576.32 L86.55,576.77 L87.02,577.21 L87.49,577.64 L87.96,578.07 L88.43,578.50 L88.90,578.93 L89.37,579.35 L89.84,579.77 L90.31,580.19 L90.78,580.60 L91.25,581.01 L91.72,581.42 L92.19,581.82 L92.66,582.22 L93.13,582.62 L93.60,583.01 L94.07,583.40 L94.54,583.79 L95.01,584.18 L95.48,584.56 L95.95,584.94 L96.42,585.32 L96.89,585.69 L97.36,586.06 L97.83,586.43 L98.30,586.79 L98.77,587.16 L99.24,587.51 L99.71,587.87 L100.19,588.22 L100.66,588.58 L101.13,588.92 L101.60,589.27 L102.07,589.61 L102.54,589.95 L103.01,590.29 L103.48,590.62 L103.95,590.95 L104.42,591.28 L104.89,591.61 L105.36,591.93 L105.83,592.25 L106.30,592.57 L106.77,592.89 L107.24,593.20 L107.71,593.51 L108.18,593.82 L108.65,594.13 L109.12,594.43 L109.59,594.73 L110.06,595.03 L110.53,595.32 L111.00,595.62 L111.47,595.91 L111.94,596.20 L112.41,596.48 L112.88,596.77 L113.35,597.05 L113.82,597.33 L114.29,597.60 L114.76,597.88 L115.23,598.15 L115.70,598.42 L116.17,598.69 L116.65,598.95 L117.12,599.22 L117.59,599.48 L118.06,599.73 L118.53,599.99 L119.00,600.24 L119.47,600.50 L119.94,600.75 L120.41,600.99 L120.88,601.24 L121.35,601.48 L121.82,601.72 L122.29,601.96 L122.76,602.20 L123.23,602.43 L123.70,602.67 L124.17,602.90 L124.64,603.13 L125.11,603.35 L125.58,603.58 L126.05,603.80 L126.52,604.02 L126.99,604.24 L127.46,604.46 L127.93,604.67 L128.40,604.89 L128.87,605.10 L129.34,605.31 L129.81,605.51 L130.28,605.72 L130.75,605.92 L131.22,606.13 L131.69,606.33 L132.16,606.53 L132.63,606.72 L133.11,606.92 L133.58,607.11 L134.05,607.30 L134.52,607.49 L134.99,607.68 L135.46,607.86 L135.93,608.05 L136.40,608.23 L136.87,608.41 L137.34,608.59 L137.81,608.77 L138.28,608.95 L138.75,609.12 L139.22,609.29 L139.69,609.46 L140.16,609.63 L140.63,609.80 L141.10,609.97 L141.57,610.13 L142.04,610.30 L142.51,610.46 L142.98,610.62 L143.45,610.78 L143.92,610.94 L144.39,611.09 L144.86,611.25 L145.33,611.40 L145.80,611.55 L146.27,611.70 L146.74,611.85 L147.21,612.00 L147.68,612.14 L148.15,612.29 L148.62,612.43 L149.09,612.57 L149.56,612.71 L150.04,612.85 L150.51,612.99 L150.98,613.13 L151.45,613.26 L151.92,613.39 L152.39,613.53 L152.86,613.66 L153.33,613.79 L153.80,613.92 L154.27,614.04 L154.74,614.17 L155.21,614.29 L155.68,614.42 L156.15,614.54 L156.62,614.66 L157.09,614.78 L157.56,614.90 L158.03,615.02 L158.50,615.13 L158.97,615.25 L159.44,615.36 L159.91,615.48 L160.38,615.59 L160.85,615.70 L161.32,615.81 L161.79,615.92 L162.26,616.03 L162.73,616.13 L163.20,616.24 L163.67,616.34 L164.14,616.45 L164.61,616.55 L165.08,616.65 L165.55,616.75 L166.02,616.85 L166.50,616.95 L166.97,617.04 L167.44,617.14 L167.91,617.23 L168.38,617.33 L168.85,617.42 L169.32,617.51 L169.79,617.61 L170.26,617.70 L170.73,617.79 L171.20,617.87 L171.67,617.96 L172.14,618.05 L172.61,618.13 L173.08,618.22 L173.55,618.30 L174.02,618.39 L174.49,618.47 L174.96,618.55 L175.43,618.63 L175.90,618.71 L176.37,618.79 L176.84,618.87 L177.31,618.94 L177.78,619.02 L178.25,619.10 L178.72,619.17 L179.19,619.25 L179.66,619.32 L180.13,619.39 L180.60,619.46 L181.07,619.53 L181.54,619.60 L182.01,619.67 L182.48,619.74 L182.96,619.81 L183.43,619.88 L183.90,619.94 L184.37,620.01 L184.84,620.07 L185.31,620.14 L185.78,620.20 L186.25,620.27 L186.72,620.33 L187.19,620.39 L187.66,620.45 L188.13,620.51 L188.60,620.57 L189.07,620.63 L189.54,620.69 L190.01,620.75 L190.48,620.80 L190.95,620.86 L191.42,620.91 L191.89,620.97 L192.36,621.02 L192.83,621.08 L193.30,621.13 L193.77,621.18 L194.24,621.24 L194.71,621.29 L195.18,621.34 L195.65,621.39 L196.12,621.44 L196.59,621.49 L197.06,621.54 L197.53,621.59 L198.00,621.63 L198.47,621.68 L198.94,621.73 L199.42,621.77 L199.89,621.82 L200.36,621.87 L200.83,621.91 L201.30,621.95 L201.77,622.00 L202.24,622.04 L202.71,622.08 L203.18,622.13 L203.65,622.17 L204.12,622.21 L204.59,622.25 L205.06,622.29 L205.53,622.33 L206.00,622.37 L206.47,622.41 L206.94,622.45 L207.41,622.48 L207.88,622.52 L208.35,622.56 L208.82,622.59 L209.29,622.63 L209.76,622.67 L210.23,622.70 L210.70,622.74 L211.17,622.77 L211.64,622.81 L212.11,622.84 L212.58,622.87 L213.05,622.91 L213.52,622.94 L213.99,622.97 L214.46,623.00 L214.93,623.03 L215.40,623.07 L215.88,623.10 L216.35,623.13 L216.82,623.16 L217.29,623.19 L217.76,623.22 L218.23,623.24 L218.70,623.27 L219.17,623.30 L219.64,623.33 L220.11,623.36 L220.58,623.38 L221.05,623.41 L221.52,623.44 L221.99,623.46 L222.46,623.49 L222.93,623.52 L223.40,623.54 L223.87,623.57 L224.34,623.59 L224.81,623.62 L225.28,623.64 L225.75,623.66 L226.22,623.69 L226.69,623.71 L227.16,623.73 L227.63,623.76 L228.10,623.78 L228.57,623.80 L229.04,623.82 L229.51,623.84 L229.98,623.87 L230.45,623.89 L230.92,623.91 L231.39,623.93 L231.86,623.95 L232.33,623.97 L232.81,623.99 L233.28,624.01 L233.75,624.03 L234.22,624.05 L234.69,624.07 L235.16,624.08 L235.63,624.10 L236.10,624.12 L236.57,624.14 L237.04,624.16 L237.51,624.17 L237.98,624.19 L238.45,624.21 L238.92,624.23 L239.39,624.24 L239.86,624.26 L240.33,624.27 L240.80,624.29 L241.27,624.31 L241.74,624.32 L242.21,624.34 L242.68,624.35 L243.15,624.37 L243.62,624.38 L244.09,624.40 L244.56,624.41 L245.03,624.43 L245.50,624.44 L245.97,624.45 L246.44,624.47 L246.91,624.48 L247.38,624.50 L247.85,624.51 L248.32,624.52 L248.79,624.53 L249.27,624.55 L249.74,624.56 L250.21,624.57 L250.68,624.58 L251.15,624.60 L251.62,624.61 L252.09,624.62 L252.56,624.63 L253.03,624.64 L253.50,624.65 L253.97,624.67 L254.44,624.68 L254.91,624.69 L255.38,624.70 L255.85,624.71 L256.32,624.72 L256.79,624.73 L257.26,624.74 L257.73,624.75 L258.20,624.76 L258.67,624.77 L259.14,624.78 L259.61,624.79 L260.08,624.80 L260.55,624.81 L261.02,624.82 L261.49,624.83 L261.96,624.83 L262.43,624.84 L262.90,624.85 L263.37,624.86 L263.84,624.87 L264.31,624.88 L264.78,624.89 L265.25,624.89 L265.73,624.90 L266.20,624.91 L266.67,624.92 L267.14,624.93 L267.61,624.93 L268.08,624.94 L268.55,624.95 L269.02,624.95 L269.49,624.96 L269.96,624.97 L270.43,624.98 L270.90,624.98 L271.37,624.99 L271.84,625.00 L272.31,625.00 L272.78,625.01 L273.25,625.02 L273.72,625.02 L274.19,625.03 L274.66,625.03 L275.13,625.04 L275.60,625.05 L276.07,625.05 L276.54,625.06 L277.01,625.06 L277.48,625.07 L277.95,625.08 L278.42,625.08 L278.89,625.09 L279.36,625.09 L279.83,625.10 L280.30,625.10 L280.77,625.11 L281.24,625.11 L281.71,625.12 L282.19,625.12 L282.66,625.13 L283.13,625.13 L283.60,625.14 L284.07,625.14 L284.54,625.15 L285.01,625.15 L285.48,625.16 L285.95,625.16 L286.42,625.16 L286.89,625.17 L287.36,625.17 L287.83,625.18 L288.30,625.18 L288.77,625.19 L289.24,625.19 L289.71,625.19 L290.18,625.20 L290.65,625.20 L291.12,625.20 L291.59,625.21 L292.06,625.21 L292.53,625.22 L293.00,625.22 L293.47,625.22 L293.94,625.23 L294.41,625.23 L294.88,625.23 L295.35,625.24 L295.82,625.24 L296.29,625.24 L296.76,625.25 L297.23,625.25 L297.70,625.25 L298.17,625.26 L298.64,625.26 L299.12,625.26 L299.59,625.26 L300.06,625.27 L300.53,625.27 L301.00,625.27 L301.47,625.28 L301.94,625.28 L302.41,625.28 L302.88,625.28 L303.35,625.29 L303.82,625.29 L304.29,625.29 L304.76,625.29 L305.23,625.30 L305.70,625.30 L306.17,625.30 L306.64,625.30 L307.11,625.31 L307.58,625.31 L308.05,625.31 L308.52,625.31 L308.99,625.31 L309.46,625.32 L309.93,625.32 L310.40,625.32 L310.87,625.32 L311.34,625.32 L311.81,625.33 L312.28,625.33 L312.75,625.33 L313.22,625.33 L313.69,625.33 L314.16,625.34 L314.63,625.34 L315.10,625.34 L315.58,625.34 L316.05,625.34 L316.52,625.34 L316.99,625.35 L317.46,625.35 L317.93,625.35 L318.40,625.35 L318.87,625.35 L319.34,625.35 L319.81,625.36 L320.28,625.36 L320.75,625.36 L321.22,625.36 L321.69,625.36 L322.16,625.36 L322.63,625.36 L323.10,625.37 L323.57,625.37" fill="none" stroke="#0fa02c" stroke-width="3" stroke-dasharray="10 4.3"></path><path d="M41.87,532.08 L42.34,532.13 L42.81,532.26 L43.28,532.48 L43.75,532.76 L44.22,533.10 L44.69,533.48 L45.16,533.89 L45.63,534.33 L46.10,534.78 L46.57,535.25 L47.04,535.74 L47.51,536.23 L47.98,536.72 L48.45,537.23 L48.92,537.73 L49.39,538.24 L49.86,538.76 L50.34,539.27 L50.81,539.78 L51.28,540.30 L51.75,540.81 L52.22,541.33 L52.69,541.85 L53.16,542.36 L53.63,542.87 L54.10,543.39 L54.57,543.90 L55.04,544.41 L55.51,544.92 L55.98,545.43 L56.45,545.94 L56.92,546.45 L57.39,546.95 L57.86,547.45 L58.33,547.96 L58.80,548.46 L59.27,548.95 L59.74,549.45 L60.21,549.95 L60.68,550.44 L61.15,550.93 L61.62,551.42 L62.09,551.91 L62.56,552.39 L63.03,552.88 L63.50,553.36 L63.97,553.84 L64.44,554.32 L64.91,554.80 L65.38,555.27 L65.85,555.74 L66.32,556.21 L66.80,556.68 L67.27,557.15 L67.74,557.61 L68.21,558.08 L68.68,558.54 L69.15,559.00 L69.62,559.45 L70.09,559.91 L70.56,560.36 L71.03,560.81 L71.50,561.26 L71.97,561.71 L72.44,562.15 L72.91,562.59 L73.38,563.03 L73.85,563.47 L74.32,563.91 L74.79,564.34 L75.26,564.77 L75.73,565.20 L76.20,565.63 L76.67,566.06 L77.14,566.48 L77.61,566.90 L78.08,567.32 L78.55,567.74 L79.02,568.16 L79.49,568.57 L79.96,568.98 L80.43,569.39 L80.90,569.80 L81.37,570.21 L81.84,570.61 L82.31,571.01 L82.78,571.41 L83.25,571.81 L83.73,572.20 L84.20,572.60 L84.67,572.99 L85.14,573.38 L85.61,573.76 L86.08,574.15 L86.55,574.53 L87.02,574.91 L87.49,575.29 L87.96,575.67 L88.43,576.04 L88.90,576.41 L89.37,576.79 L89.84,577.15 L90.31,577.52 L90.78,577.89 L91.25,578.25 L91.72,578.61 L92.19,578.97 L92.66,579.32 L93.13,579.68 L93.60,580.03 L94.07,580.38 L94.54,580.73 L95.01,581.08 L95.48,581.42 L95.95,581.76 L96.42,582.11 L96.89,582.44 L97.36,582.78 L97.83,583.12 L98.30,583.45 L98.77,583.78 L99.24,584.11 L99.71,584.44 L100.19,584.76 L100.66,585.09 L101.13,585.41 L101.60,585.73 L102.07,586.04 L102.54,586.36 L103.01,586.67 L103.48,586.98 L103.95,587.29 L104.42,587.60 L104.89,587.91 L105.36,588.21 L105.83,588.52 L106.30,588.82 L106.77,589.12 L107.24,589.41 L107.71,589.71 L108.18,590.00 L108.65,590.29 L109.12,590.58 L109.59,590.87 L110.06,591.15 L110.53,591.44 L111.00,591.72 L111.47,592.00 L111.94,592.28 L112.41,592.56 L112.88,592.83 L113.35,593.10 L113.82,593.38 L114.29,593.65 L114.76,593.91 L115.23,594.18 L115.70,594.44 L116.17,594.71 L116.65,594.97 L117.12,595.23 L117.59,595.48 L118.06,595.74 L118.53,595.99 L119.00,596.25 L119.47,596.50 L119.94,596.75 L120.41,596.99 L120.88,597.24 L121.35,597.48 L121.82,597.73 L122.29,597.97 L122.76,598.21 L123.23,598.44 L123.70,598.68 L124.17,598.91 L124.64,599.14 L125.11,599.38 L125.58,599.61 L126.05,599.83 L126.52,600.06 L126.99,600.28 L127.46,600.51 L127.93,600.73 L128.40,600.95 L128.87,601.17 L129.34,601.38 L129.81,601.60 L130.28,601.81 L130.75,602.02 L131.22,602.23 L131.69,602.44 L132.16,602.65 L132.63,602.85 L133.11,603.06 L133.58,603.26 L134.05,603.46 L134.52,603.66 L134.99,603.86 L135.46,604.06 L135.93,604.25 L136.40,604.45 L136.87,604.64 L137.34,604.83 L137.81,605.02 L138.28,605.21 L138.75,605.40 L139.22,605.58 L139.69,605.77 L140.16,605.95 L140.63,606.13 L141.10,606.31 L141.57,606.49 L142.04,606.67 L142.51,606.84 L142.98,607.02 L143.45,607.19 L143.92,607.36 L144.39,607.53 L144.86,607.70 L145.33,607.87 L145.80,608.04 L146.27,608.20 L146.74,608.37 L147.21,608.53 L147.68,608.69 L148.15,608.85 L148.62,609.01 L149.09,609.17 L149.56,609.32 L150.04,609.48 L150.51,609.63 L150.98,609.78 L151.45,609.94 L151.92,610.09 L152.39,610.23 L152.86,610.38 L153.33,610.53 L153.80,610.67 L154.27,610.82 L154.74,610.96 L155.21,611.10 L155.68,611.24 L156.15,611.38 L156.62,611.52 L157.09,611.66 L157.56,611.80 L158.03,611.93 L158.50,612.06 L158.97,612.20 L159.44,612.33 L159.91,612.46 L160.38,612.59 L160.85,612.72 L161.32,612.84 L161.79,612.97 L162.26,613.10 L162.73,613.22 L163.20,613.34 L163.67,613.47 L164.14,613.59 L164.61,613.71 L165.08,613.83 L165.55,613.94 L166.02,614.06 L166.50,614.18 L166.97,614.29 L167.44,614.40 L167.91,614.52 L168.38,614.63 L168.85,614.74 L169.32,614.85 L169.79,614.96 L170.26,615.07 L170.73,615.17 L171.20,615.28 L171.67,615.39 L172.14,615.49 L172.61,615.59 L173.08,615.70 L173.55,615.80 L174.02,615.90 L174.49,616.00 L174.96,616.10 L175.43,616.19 L175.90,616.29 L176.37,616.39 L176.84,616.48 L177.31,616.58 L177.78,616.67 L178.25,616.76 L178.72,616.86 L179.19,616.95 L179.66,617.04 L180.13,617.13 L180.60,617.22 L181.07,617.30 L181.54,617.39 L182.01,617.48 L182.48,617.56 L182.96,617.65 L183.43,617.73 L183.90,617.81 L184.37,617.90 L184.84,617.98 L185.31,618.06 L185.78,618.14 L186.25,618.22 L186.72,618.30 L187.19,618.37 L187.66,618.45 L188.13,618.53 L188.60,618.60 L189.07,618.68 L189.54,618.75 L190.01,618.83 L190.48,618.90 L190.95,618.97 L191.42,619.04 L191.89,619.11 L192.36,619.18 L192.83,619.25 L193.30,619.32 L193.77,619.39 L194.24,619.46 L194.71,619.52 L195.18,619.59 L195.65,619.65 L196.12,619.72 L196.59,619.78 L197.06,619.85 L197.53,619.91 L198.00,619.97 L198.47,620.03 L198.94,620.09 L199.42,620.15 L199.89,620.21 L200.36,620.27 L200.83,620.33 L201.30,620.39 L201.77,620.45 L202.24,620.50 L202.71,620.56 L203.18,620.62 L203.65,620.67 L204.12,620.73 L204.59,620.78 L205.06,620.83 L205.53,620.89 L206.00,620.94 L206.47,620.99 L206.94,621.04 L207.41,621.09 L207.88,621.14 L208.35,621.19 L208.82,621.24 L209.29,621.29 L209.76,621.34 L210.23,621.39 L210.70,621.44 L211.17,621.48 L211.64,621.53 L212.11,621.58 L212.58,621.62 L213.05,621.67 L213.52,621.71 L213.99,621.75 L214.46,621.80 L214.93,621.84 L215.40,621.88 L215.88,621.93 L216.35,621.97 L216.82,622.01 L217.29,622.05 L217.76,622.09 L218.23,622.13 L218.70,622.17 L219.17,622.21 L219.64,622.25 L220.11,622.29 L220.58,622.32 L221.05,622.36 L221.52,622.40 L221.99,622.44 L222.46,622.47 L222.93,622.51 L223.40,622.54 L223.87,622.58 L224.34,622.61 L224.81,622.65 L225.28,622.68 L225.75,622.72 L226.22,622.75 L226.69,622.78 L227.16,622.81 L227.63,622.85 L228.10,622.88 L228.57,622.91 L229.04,622.94 L229.51,622.97 L229.98,623.00 L230.45,623.03 L230.92,623.06 L231.39,623.09 L231.86,623.12 L232.33,623.15 L232.81,623.18 L233.28,623.21 L233.75,623.23 L234.22,623.26 L234.69,623.29 L235.16,623.32 L235.63,623.34 L236.10,623.37 L236.57,623.40 L237.04,623.42 L237.51,623.45 L237.98,623.47 L238.45,623.50 L238.92,623.52 L239.39,623.55 L239.86,623.57 L240.33,623.59 L240.80,623.62 L241.27,623.64 L241.74,623.66 L242.21,623.69 L242.68,623.71 L243.15,623.73 L243.62,623.75 L244.09,623.77 L244.56,623.80 L245.03,623.82 L245.50,623.84 L245.97,623.86 L246.44,623.88 L246.91,623.90 L247.38,623.92 L247.85,623.94 L248.32,623.96 L248.79,623.98 L249.27,624.00 L249.74,624.02 L250.21,624.03 L250.68,624.05 L251.15,624.07 L251.62,624.09 L252.09,624.11 L252.56,624.12 L253.03,624.14 L253.50,624.16 L253.97,624.18 L254.44,624.19 L254.91,624.21 L255.38,624.23 L255.85,624.24 L256.32,624.26 L256.79,624.27 L257.26,624.29 L257.73,624.30 L258.20,624.32 L258.67,624.33 L259.14,624.35 L259.61,624.36 L260.08,624.38 L260.55,624.39 L261.02,624.41 L261.49,624.42 L261.96,624.43 L262.43,624.45 L262.90,624.46 L263.37,624.48 L263.84,624.49 L264.31,624.50 L264.78,624.51 L265.25,624.53 L265.73,624.54 L266.20,624.55 L266.67,624.56 L267.14,624.58 L267.61,624.59 L268.08,624.60 L268.55,624.61 L269.02,624.62 L269.49,624.63 L269.96,624.64 L270.43,624.66 L270.90,624.67 L271.37,624.68 L271.84,624.69 L272.31,624.70 L272.78,624.71 L273.25,624.72 L273.72,624.73 L274.19,624.74 L274.66,624.75 L275.13,624.76 L275.60,624.77 L276.07,624.78 L276.54,624.79 L277.01,624.80 L277.48,624.81 L277.95,624.81 L278.42,624.82 L278.89,624.83 L279.36,624.84 L279.83,624.85 L280.30,624.86 L280.77,624.87 L281.24,624.87 L281.71,624.88 L282.19,624.89 L282.66,624.90 L283.13,624.91 L283.60,624.91 L284.07,624.92 L284.54,624.93 L285.01,624.94 L285.48,624.94 L285.95,624.95 L286.42,624.96 L286.89,624.96 L287.36,624.97 L287.83,624.98 L288.30,624.98 L288.77,624.99 L289.24,625.00 L289.71,625.00 L290.18,625.01 L290.65,625.02 L291.12,625.02 L291.59,625.03 L292.06,625.04 L292.53,625.04 L293.00,625.05 L293.47,625.05 L293.94,625.06 L294.41,625.06 L294.88,625.07 L295.35,625.08 L295.82,625.08 L296.29,625.09 L296.76,625.09 L297.23,625.10 L297.70,625.10 L298.17,625.11 L298.64,625.11 L299.12,625.12 L299.59,625.12 L300.06,625.13 L300.53,625.13 L301.00,625.14 L301.47,625.14 L301.94,625.15 L302.41,625.15 L302.88,625.15 L303.35,625.16 L303.82,625.16 L304.29,625.17 L304.76,625.17 L305.23,625.18 L305.70,625.18 L306.17,625.18 L306.64,625.19 L307.11,625.19 L307.58,625.20 L308.05,625.20 L308.52,625.20 L308.99,625.21 L309.46,625.21 L309.93,625.21 L310.40,625.22 L310.87,625.22 L311.34,625.22 L311.81,625.23 L312.28,625.23 L312.75,625.23 L313.22,625.24 L313.69,625.24 L314.16,625.24 L314.63,625.25 L315.10,625.25 L315.58,625.25 L316.05,625.26 L316.52,625.26 L316.99,625.26 L317.46,625.27 L317.93,625.27 L318.40,625.27 L318.87,625.27 L319.34,625.28 L319.81,625.28 L320.28,625.28 L320.75,625.28 L321.22,625.29 L321.69,625.29 L322.16,625.29 L322.63,625.29 L323.10,625.30 L323.57,625.30" fill="none" stroke="#bd8214" stroke-width="3" stroke-dasharray="10 4.3"></path><g stroke="#000" stroke-width="1.22" fill="none"><line x1="41.27" y1="369.45" x2="371.12" y2="369.45"></line><line x1="41.27" y1="625.45" x2="371.12" y2="625.45"></line><line x1="41.87" y1="368.85" x2="41.87" y2="626.05" stroke-width="1.25"></line><line x1="370.52" y1="368.85" x2="370.52" y2="626.95" stroke-width="1.2"></line><line x1="41.87" y1="625.45" x2="41.87" y2="627.05" stroke-width="1"></line><line x1="88.82" y1="625.45" x2="88.82" y2="627.05" stroke-width="1"></line><line x1="135.77" y1="625.45" x2="135.77" y2="627.05" stroke-width="1"></line><line x1="182.72" y1="625.45" x2="182.72" y2="627.05" stroke-width="1"></line><line x1="229.67" y1="625.45" x2="229.67" y2="627.05" stroke-width="1"></line><line x1="276.62" y1="625.45" x2="276.62" y2="627.05" stroke-width="1"></line><line x1="323.57" y1="625.45" x2="323.57" y2="627.05" stroke-width="1"></line><line x1="370.52" y1="625.45" x2="370.52" y2="627.05" stroke-width="1"></line><line x1="39.87" y1="625.45" x2="41.87" y2="625.45" stroke-width="1"></line><line x1="39.87" y1="540.12" x2="41.87" y2="540.12" stroke-width="1"></line><line x1="39.87" y1="454.78" x2="41.87" y2="454.78" stroke-width="1"></line><line x1="39.87" y1="369.45" x2="41.87" y2="369.45" stroke-width="1"></line></g><rect x="161.6" y="373.6" width="205.2" height="93.4" fill="#fff" stroke="#555" stroke-width="1"></rect><g font-family="Liberation Sans, sans-serif" font-size="15.7" stroke="#000" stroke-width="0.35"><text x="163.2" y="388.8" fill="#ff0000" stroke="#ff0000">Sample C</text><text x="174.5" y="408.9">Constant source</text><text x="174.2" y="427.2">Instantaneous source</text><text x="174.0" y="444.8">He: 2.5keV, D = 2x 0<tspan font-size="10.5" dy="-7">  </tspan><tspan dy="7">cm</tspan><tspan font-size="10.5" dy="-7">-2</tspan></text><path d="M763,0 L583,0 L583,1147 Q518,1085 412.5,1023 Q307,961 223,930 L223,1104 Q374,1175 484.5,1273.5 Q595,1372 644,1466 L763,1466 Z" transform="translate(327.95,437.80) scale(0.005127,-0.005127)" fill="rgb(0, 0, 0)" stroke="rgb(0, 0, 0)" stroke-width="68.27"></path><path d="M763,0 L583,0 L583,1147 Q518,1085 412.5,1023 Q307,961 223,930 L223,1104 Q374,1175 484.5,1273.5 Q595,1372 644,1466 L763,1466 Z" transform="translate(322.13,437.80) scale(0.005127,-0.005127)" fill="rgb(0, 0, 0)" stroke="rgb(0, 0, 0)" stroke-width="68.27"></path><path d="M763,0 L583,0 L583,1147 Q518,1085 412.5,1023 Q307,961 223,930 L223,1104 Q374,1175 484.5,1273.5 Q595,1372 644,1466 L763,1466 Z" transform="translate(304.66,444.80) scale(0.007666,-0.007666)" fill="rgb(0, 0, 0)" stroke="rgb(0, 0, 0)" stroke-width="45.66"></path><text x="174.0" y="462.7">He: 5keV, D = 5x 0<tspan font-size="10.5" dy="-7">  </tspan><tspan dy="7">cm</tspan><tspan font-size="10.5" dy="-7">-2</tspan></text><path d="M763,0 L583,0 L583,1147 Q518,1085 412.5,1023 Q307,961 223,930 L223,1104 Q374,1175 484.5,1273.5 Q595,1372 644,1466 L763,1466 Z" transform="translate(314.86,455.70) scale(0.005127,-0.005127)" fill="rgb(0, 0, 0)" stroke="rgb(0, 0, 0)" stroke-width="68.27"></path><path d="M763,0 L583,0 L583,1147 Q518,1085 412.5,1023 Q307,961 223,930 L223,1104 Q374,1175 484.5,1273.5 Q595,1372 644,1466 L763,1466 Z" transform="translate(309.03,455.70) scale(0.005127,-0.005127)" fill="rgb(0, 0, 0)" stroke="rgb(0, 0, 0)" stroke-width="68.27"></path><path d="M763,0 L583,0 L583,1147 Q518,1085 412.5,1023 Q307,961 223,930 L223,1104 Q374,1175 484.5,1273.5 Q595,1372 644,1466 L763,1466 Z" transform="translate(291.58,462.70) scale(0.007666,-0.007666)" fill="rgb(0, 0, 0)" stroke="rgb(0, 0, 0)" stroke-width="45.66"></path></g><line x1="164" y1="402.8" x2="172" y2="402.8" stroke="#0fa02c" stroke-width="2.2"></line><line x1="164" y1="420.9" x2="172" y2="420.9" stroke="#bd8214" stroke-width="2.2"></line><rect x="164" y="434.5" width="8" height="8" fill="rgba(255,140,140,0.49)" stroke="rgba(150,30,45,0.33)" stroke-width="0.8"></rect><rect x="164" y="452.3" width="8" height="8" fill="rgba(38,98,238,0.3)" stroke="rgba(40,60,220,0.4)" stroke-width="0.8"></rect><g font-family="Liberation Sans, sans-serif" fill="#ff0000"><text x="207.7" y="524.60" font-size="18.5" stroke="#ff0000" stroke-width="0.2">E<tspan font-size="12.5" dy="3.5" dx="0.2">a</tspan><tspan dy="-3.5" dx="0.4"> =  .7eV</tspan></text><path d="M763,0 L583,0 L583,1147 Q518,1085 412.5,1023 Q307,961 223,930 L223,1104 Q374,1175 484.5,1273.5 Q595,1372 644,1466 L763,1466 Z" transform="translate(248.68,524.60) scale(0.009033,-0.009033)" fill="rgb(255, 0, 0)" stroke="rgb(255, 0, 0)" stroke-width="22.14"></path><line x1="207" y1="543.20" x2="193.5" y2="558.30" stroke="#ff0000" stroke-width="3.2"></line><polygon points="183.7,569.10 188.3,554.20 198.5,562.40" fill="#ff0000"></polygon></g><g font-family="Liberation Sans, sans-serif" font-size="18.5" fill="#000" stroke="#000" stroke-width="0.35"><text x="41.87" y="644.65" text-anchor="middle">0</text><text x="88.82" y="644.65" text-anchor="middle"> </text><path d="M763,0 L583,0 L583,1147 Q518,1085 412.5,1023 Q307,961 223,930 L223,1104 Q374,1175 484.5,1273.5 Q595,1372 644,1466 L763,1466 Z" transform="translate(83.67,644.65) scale(0.009033,-0.009033)" fill="rgb(0, 0, 0)" stroke="rgb(0, 0, 0)" stroke-width="38.75"></path><text x="135.77" y="644.65" text-anchor="middle">2</text><text x="182.72" y="644.65" text-anchor="middle">3</text><text x="229.67" y="644.65" text-anchor="middle">4</text><text x="276.62" y="644.65" text-anchor="middle">5</text><text x="323.57" y="644.65" text-anchor="middle">6</text><text x="370.52" y="644.65" text-anchor="middle">7</text><text x="37.0" y="632.35" text-anchor="end">0</text><text x="37.0" y="547.02" text-anchor="end"> </text><path d="M763,0 L583,0 L583,1147 Q518,1085 412.5,1023 Q307,961 223,930 L223,1104 Q374,1175 484.5,1273.5 Q595,1372 644,1466 L763,1466 Z" transform="translate(26.70,547.02) scale(0.009033,-0.009033)" fill="rgb(0, 0, 0)" stroke="rgb(0, 0, 0)" stroke-width="38.75"></path><text x="37.0" y="461.68" text-anchor="end">2</text><text x="37.0" y="376.35" text-anchor="end">3</text></g><g font-family="Liberation Sans, sans-serif" font-size="18.5" stroke="#000" stroke-width="0.35"><text transform="translate(155.47,665.25) scale(1.017,1)">Depth</text><text x="210.90" y="665.25">(</text><path d="M218.4,670.05 L222.9,655.55 M221.5,661.05 Q220.5,665.35 223.9,664.95 Q227.3,664.55 229.2,659.85 M230.0,655.55 L228.4,662.45 Q227.9,664.95 230.3,664.55 Q231.8,664.15 232.9,662.35" fill="none" stroke="#000" stroke-width="1.45" stroke-linecap="butt"></path><text transform="translate(232.71,665.25) scale(1.077,1)">m</text><text x="249.80" y="665.25">)</text></g><text font-family="Liberation Sans, sans-serif" font-size="18.5" transform="translate(16.4,561.95) rotate(-90)" stroke="#000" stroke-width="0.35">NV x 0<tspan font-size="12" dy="-7.4" dx="0.8"> 2</tspan><tspan dy="7.4"> (cm</tspan><tspan font-size="12.5" dy="-7.4" dx="0.6">-3</tspan><tspan dy="7.4" dx="1.0">)</tspan></text><path d="M763,0 L583,0 L583,1147 Q518,1085 412.5,1023 Q307,961 223,930 L223,1104 Q374,1175 484.5,1273.5 Q595,1372 644,1466 L763,1466 Z" transform="translate(16.4,561.95) rotate(-90) translate(61.47,-7.40) scale(0.005859,-0.005859)" fill="rgb(0, 0, 0)" stroke="rgb(0, 0, 0)" stroke-width="59.73"></path><path d="M763,0 L583,0 L583,1147 Q518,1085 412.5,1023 Q307,961 223,930 L223,1104 Q374,1175 484.5,1273.5 Q595,1372 644,1466 L763,1466 Z" transform="translate(16.4,561.95) rotate(-90) translate(40.08,0.00) scale(0.009033,-0.009033)" fill="rgb(0, 0, 0)" stroke="rgb(0, 0, 0)" stroke-width="38.75"></path><text font-family="Liberation Sans, sans-serif" font-size="22.5" x="-1.2" y="356.4" stroke="#000" stroke-width="0.35">b<tspan dx="0.4">)</tspan></text></svg></body></html>
